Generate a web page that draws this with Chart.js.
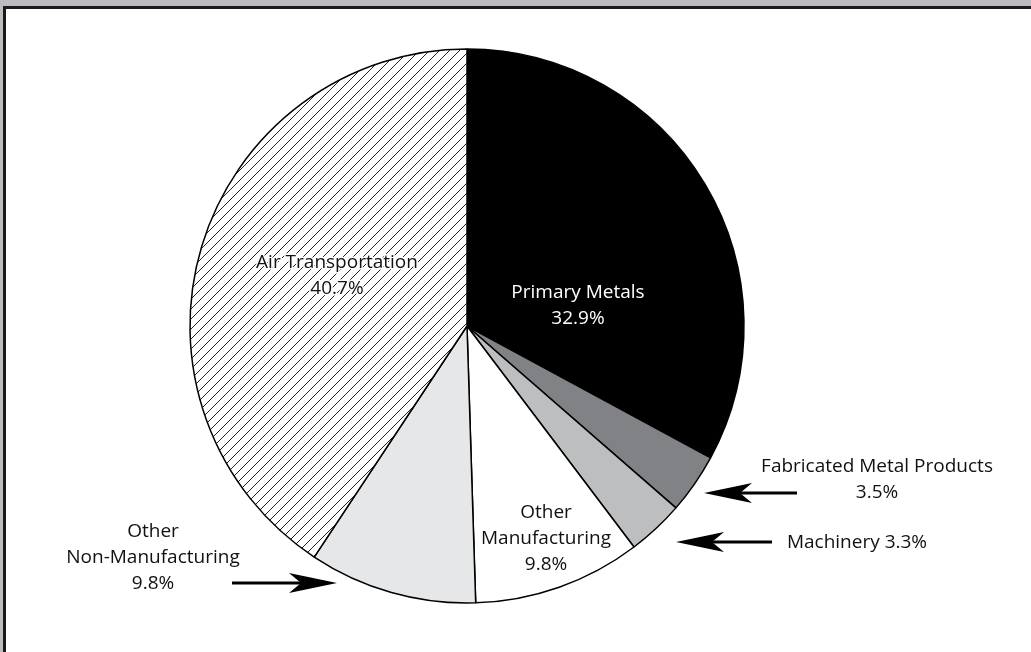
<!DOCTYPE html>
<html><head><meta charset="utf-8">
<script src="https://cdn.jsdelivr.net/npm/chart.js@4"></script>
<style>
html,body{margin:0;padding:0;background:#bbbcbf;width:1031px;height:652px;overflow:hidden}
#frame{position:absolute;left:3px;top:6px;width:1028px;height:646px;border-top:3px solid #1a1a1a;border-left:3px solid #1a1a1a;background:#fff;box-sizing:border-box}
#c{position:absolute;left:0;top:0}
</style></head><body>
<div id="frame"></div>
<canvas id="c" width="1031" height="652"></canvas>
<script>
// ---- data ----
const categories = ["Primary Metals","Fabricated Metal Products","Machinery","Other Manufacturing","Other Non-Manufacturing","Air Transportation"];
const shares = [32.9, 3.5, 3.3, 9.8, 9.8, 40.7];
const labelLines = [["Primary Metals"],["Fabricated Metal Products"],["Machinery"],["Other","Manufacturing"],["Other","Non-Manufacturing"],["Air Transportation"]];

// ---- styles / layout (offsets relative to pie centre) ----
const FONT = '19px "Open Sans", "Liberation Sans", sans-serif';
const LINE_H = 26;
const annot = [
  {dx:111, dy:-33, color:'#fff'},
  {dx:410, dy:141, color:'#111', arrow:{tipDx:237, tipDy:167, tailDx:330}},
  {dx:390, dy:217, color:'#111', inlinePct:true, arrow:{tipDx:209, tipDy:216, tailDx:305}},
  {dx:79, dy:187, color:'#111'},
  {dx:-314, dy:206, color:'#111', arrow:{tipDx:-130, tipDy:257, tailDx:-235}},
  {dx:-130, dy:-63, color:'#111', halo:true}
];

function hatch(){
  const t=document.createElement('canvas'); t.width=10; t.height=10;
  const g=t.getContext('2d');
  g.fillStyle='#fff'; g.fillRect(0,0,10,10);
  g.strokeStyle='#222'; g.lineWidth=1;
  g.beginPath();
  g.moveTo(-1,11); g.lineTo(11,-1);
  g.moveTo(-6,6); g.lineTo(6,-6);
  g.moveTo(4,16); g.lineTo(16,4);
  g.stroke();
  return g.createPattern(t,'repeat');
}
const colors = ['#000000','#808285','#bcbec0','#ffffff','#e6e7e8', hatch()];

function drawArrow(ctx, x0, y, tipX){
  const dir = Math.sign(tipX - x0);
  const headLen = 48, half = 10, notch = 12;
  const bx = tipX - dir*headLen;
  ctx.save();
  ctx.strokeStyle='#000'; ctx.fillStyle='#000'; ctx.lineWidth=3;
  ctx.beginPath(); ctx.moveTo(x0,y); ctx.lineTo(bx+dir*notch,y); ctx.stroke();
  ctx.beginPath();
  ctx.moveTo(tipX,y);
  ctx.lineTo(bx,y-half);
  ctx.lineTo(bx+dir*notch,y);
  ctx.lineTo(bx,y+half);
  ctx.closePath(); ctx.fill();
  ctx.restore();
}

const labelPlugin = {
  id:'labels',
  afterDatasetsDraw(chart){
    const ctx = chart.ctx;
    const arc = chart.getDatasetMeta(0).data[0];
    const cx = arc.x, cy = arc.y;
    ctx.save();
    ctx.font = FONT; ctx.textAlign='center'; ctx.textBaseline='middle';
    shares.forEach((v,i)=>{
      const a = annot[i];
      const pct = v.toFixed(1)+'%';
      let lines = labelLines[i].slice();
      if (a.inlinePct) lines[lines.length-1] += ' ' + pct; else lines.push(pct);
      lines.forEach((s,k)=>{
        const x = cx+a.dx, y = cy+a.dy+k*LINE_H;
        if (a.halo){ ctx.strokeStyle='#fff'; ctx.lineWidth=3; ctx.lineJoin='round'; ctx.strokeText(s,x,y); }
        ctx.fillStyle = a.color;
        ctx.fillText(s, x, y);
      });
      if (a.arrow) drawArrow(ctx, cx+a.arrow.tailDx, cy+a.arrow.tipDy, cx+a.arrow.tipDx);
    });
    ctx.restore();
  }
};

new Chart(document.getElementById('c'), {
  type:'pie',
  data:{ labels:categories, datasets:[{ data:shares, backgroundColor:colors, borderColor:'#000', borderWidth:1.5 }]},
  options:{
    responsive:false, animation:false, events:[],
    radius:277,
    layout:{padding:{left:0,right:97,top:0,bottom:0}},
    plugins:{legend:{display:false}, tooltip:{enabled:false}}
  },
  plugins:[labelPlugin]
});
</script>
</body></html>
